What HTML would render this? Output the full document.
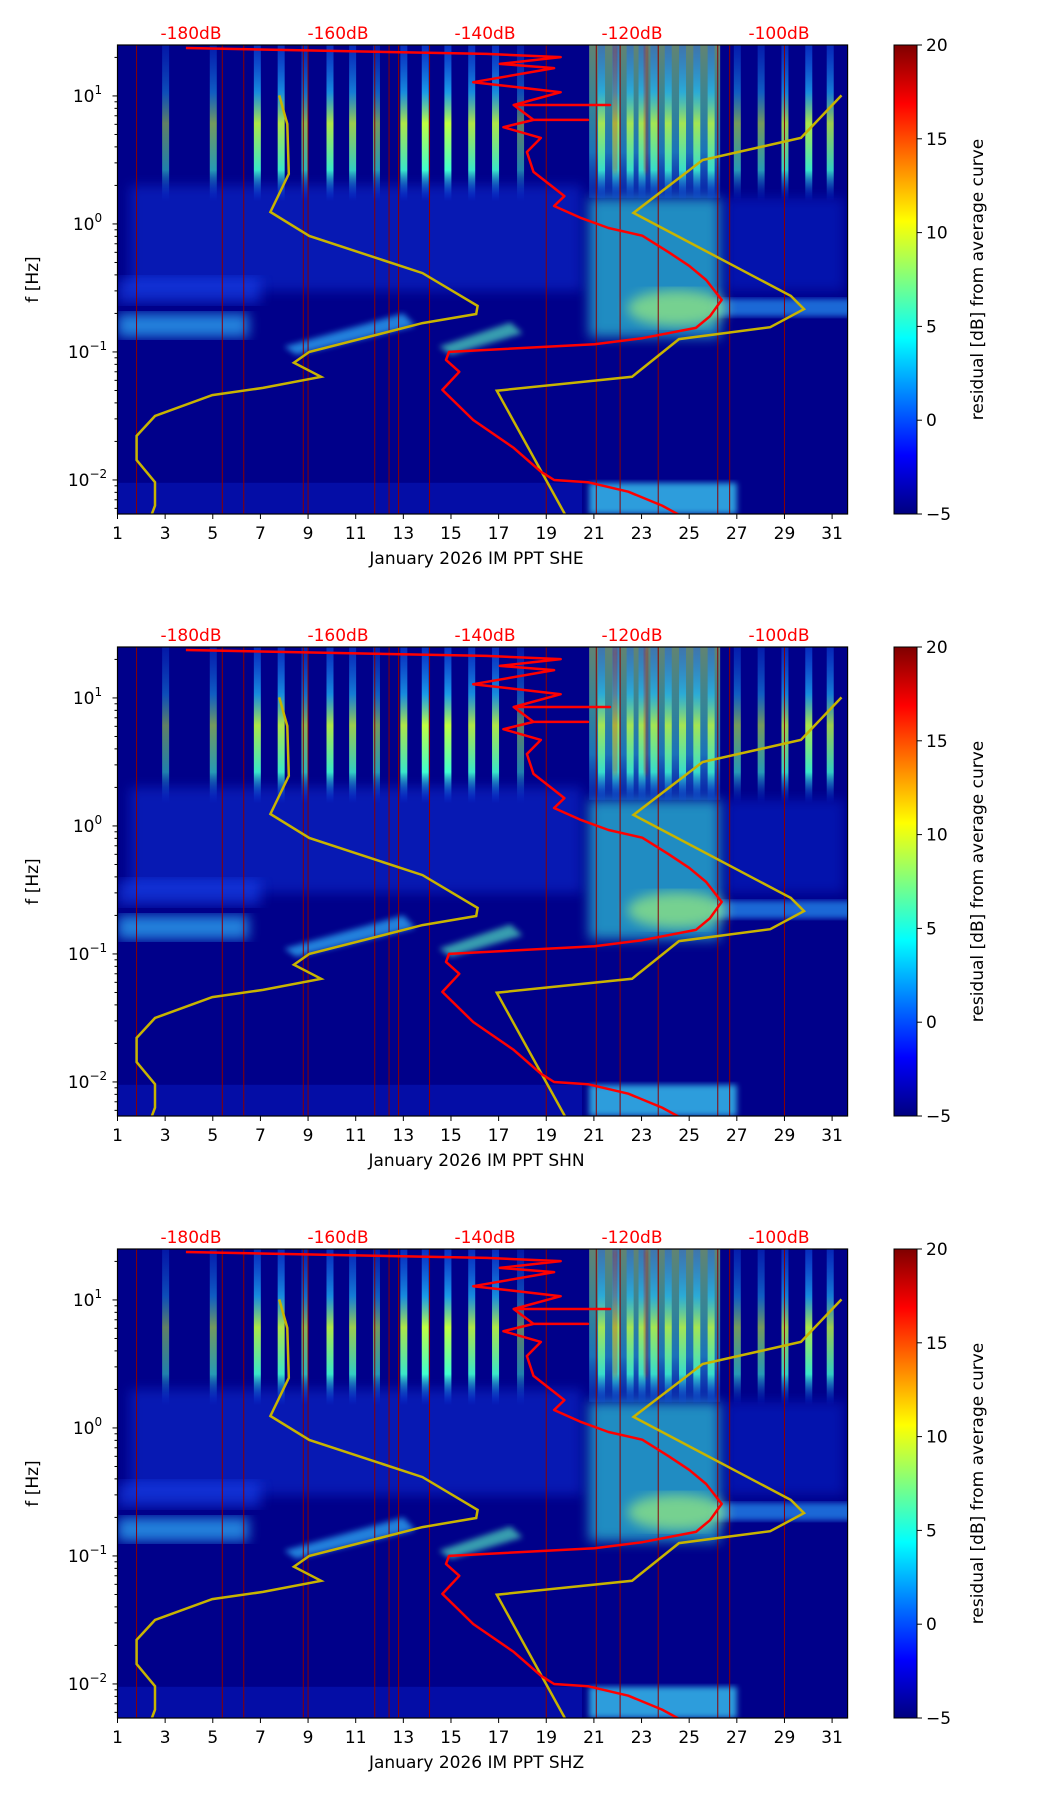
<!DOCTYPE html>
<html><head><meta charset="utf-8"><style>
html,body{margin:0;padding:0;background:#fff;}
svg{display:block;font-family:"DejaVu Sans","Liberation Sans",sans-serif;}
</style></head><body>
<svg id="fig" width="1052" height="1806" viewBox="0 0 1052 1806" xmlns="http://www.w3.org/2000/svg">
<defs>
<linearGradient id="jet" x1="0" y1="1" x2="0" y2="0">
<stop offset="0" stop-color="#00007f"/><stop offset="0.125" stop-color="#0000ff"/><stop offset="0.375" stop-color="#00ffff"/><stop offset="0.625" stop-color="#ffff00"/><stop offset="0.875" stop-color="#ff0000"/><stop offset="1" stop-color="#7f0000"/>
</linearGradient>
<linearGradient id="streak" x1="0" y1="0" x2="0" y2="1">
<stop offset="0" stop-color="#1060ff" stop-opacity="0.5"/><stop offset="0.3" stop-color="#20c0ff" stop-opacity="0.8"/><stop offset="0.5" stop-color="#c0ff40"/><stop offset="0.8" stop-color="#40ffd0"/><stop offset="1" stop-color="#0040ff" stop-opacity="0"/>
</linearGradient>
<linearGradient id="busy" x1="0" y1="0" x2="0" y2="1">
<stop offset="0" stop-color="#b0f060"/><stop offset="0.4" stop-color="#60f0a0"/><stop offset="0.7" stop-color="#30d0e0"/><stop offset="1" stop-color="#2080ff" stop-opacity="0.4"/>
</linearGradient>
<filter id="blur6"><feGaussianBlur stdDeviation="6"/></filter>
<filter id="blur3"><feGaussianBlur stdDeviation="3"/></filter>
</defs>
</svg>
<script>
// ---- chart data ----
const panelNames = ["SHE","SHN","SHZ"];
const xTickDays = [1,3,5,7,9,11,13,15,17,19,21,23,25,27,29,31];
const dbTicks = [-180,-160,-140,-120,-100];
const cbTicks = [-5,0,5,10,15,20];
const gapDays = [1.8,5.4,6.3,8.8,9.0,11.8,12.4,12.8,14.1,19.0,21.1,22.1,23.7,26.2,26.7,29.0];
const streakDays = [3.0,5.0,6.85,7.85,8.85,9.9,10.85,11.85,13.0,13.9,14.85,15.85,16.85,17.9,27.0,28.0,29.0,30.0,30.9];
const streakLevel = [0.5,0.6,0.9,0.9,0.7,0.9,0.8,0.6,0.9,1.0,1.0,0.9,0.9,0.5,0.6,0.6,0.8,0.9,0.8];
const busyDays = [21.3,21.9,22.5,23.0,23.5,24.1,24.7,25.3,25.9];
const redDb = [-180.7,-139.8,-129.7,-138.0,-130.6,-141.6,-129.7,-136.1,-123.0,-136.1,-133.4,-126,-133.4,-137.5,-132.4,-134.3,-133.4,-130.6,-129.2,-130.6,-126.9,-123.2,-118.6,-115.0,-112.2,-109.9,-107.8,-109.4,-111.3,-118.6,-125.1,-144.9,-145.3,-143.5,-145.8,-141.6,-136.1,-132.4,-130.6,-126.0,-120.5,-115.9,-112.7];
const redF = [23.7,21.3,20.1,17.8,16.5,12.8,10.7,8.5,8.5,8.5,6.5,6.5,6.5,5.7,4.7,3.65,2.55,1.91,1.65,1.38,1.11,0.93,0.81,0.60,0.47,0.365,0.255,0.19,0.154,0.128,0.115,0.1,0.0866,0.07,0.0505,0.0294,0.0178,0.0116,0.01,0.0096,0.0081,0.0063,0.005];
const nlnmDb = [-168.0,-166.9,-166.7,-169.2,-163.9,-148.5,-141.0,-141.2,-148.5,-163.9,-166.0,-162.3,-170.2,-177.1,-184.9,-187.4,-187.4,-184.9,-184.9,-185.6];
const nlnmF = [10.1,6.04,2.46,1.24,0.805,0.413,0.229,0.198,0.168,0.1,0.0824,0.064,0.0524,0.046,0.0316,0.0221,0.0143,0.0096,0.0063,0.0049];
const nhnmDb = [-91.5,-97.0,-110.4,-119.8,-98.4,-96.6,-101.2,-113.6,-120.0,-138.4,-128.8];
const nhnmF = [10.1,4.7,3.16,1.22,0.274,0.216,0.156,0.126,0.064,0.0498,0.005];

// ---- geometry ----
const L=117.5,PX=23.82,DMAX=31.65,R=L+(DMAX-1)*PX,H=469,tops=[45,647,1249];
const fMax=25.0,fMin=0.00542;
const lgMax=Math.log10(fMax),lgMin=Math.log10(fMin);
const NS="http://www.w3.org/2000/svg";
const svg=document.getElementById('fig');
function xDay(d){return L+(d-1)*PX;}
function xDb(db){return 191+(db+180)*7.35;}
function yF(top,f){return top+(lgMax-Math.log10(f))/(lgMax-lgMin)*H;}
function mk(tag,attrs,parent){const e=document.createElementNS(NS,tag);for(const k in attrs)e.setAttribute(k,attrs[k]);(parent||svg).appendChild(e);return e;}
function txt(s,attrs,parent){const e=mk('text',attrs,parent);e.textContent=s;return e;}

tops.forEach((top,pi)=>{
  const g=mk('g',{});
  
  
  const cp=mk('clipPath',{id:'clip'+pi},g);
  mk('rect',{x:L,y:top,width:R-L,height:H},cp);
  const sp=mk('g',{'clip-path':'url(#clip'+pi+')'},g);
  
  
  const Y=f=>yF(top,f);
  mk('rect',{x:L,y:top,width:R-L,height:H,fill:'#00008a'},sp);
  mk('rect',{x:xDay(1.5),y:Y(2.0),width:xDay(20.5)-xDay(1.5),height:Y(0.3)-Y(2.0),fill:'#1848ff',opacity:0.35,filter:'url(#blur6)'},sp);
  mk('rect',{x:xDay(26.5),y:Y(1.6),width:xDay(31.5)-xDay(26.5),height:Y(0.3)-Y(1.6),fill:'#1040ff',opacity:0.3,filter:'url(#blur6)'},sp);
  mk('rect',{x:xDay(1),y:Y(0.38),width:xDay(7)-xDay(1),height:Y(0.24)-Y(0.38),fill:'#1a50ff',opacity:0.5,filter:'url(#blur6)'},sp);
  mk('rect',{x:xDay(1),y:Y(0.2),width:xDay(6.5)-xDay(1),height:Y(0.13)-Y(0.2),fill:'#30b8ff',opacity:0.7,filter:'url(#blur6)'},sp);
  mk('polygon',{points:`${xDay(8)},${Y(0.11)} ${xDay(13)},${Y(0.2)} ${xDay(13.5)},${Y(0.16)} ${xDay(8.5)},${Y(0.095)}`,fill:'#30b8ff',opacity:0.7,filter:'url(#blur3)'},sp);
  mk('polygon',{points:`${xDay(14.5)},${Y(0.11)} ${xDay(17.5)},${Y(0.17)} ${xDay(18)},${Y(0.14)} ${xDay(15)},${Y(0.095)}`,fill:'#50e0c0',opacity:0.7,filter:'url(#blur3)'},sp);
  mk('rect',{x:xDay(26),y:Y(0.26),width:xDay(32)-xDay(26),height:Y(0.19)-Y(0.26),fill:'#2aa0ff',opacity:0.65,filter:'url(#blur3)'},sp);
  mk('rect',{x:xDay(20.8),y:Y(1.6),width:xDay(26.3)-xDay(20.8),height:Y(0.13)-Y(1.6),fill:'#30d8e0',opacity:0.65,filter:'url(#blur6)'},sp);
  mk('ellipse',{cx:xDay(24.5),cy:Y(0.22),rx:50,ry:18,fill:'#b0ff70',opacity:0.6,filter:'url(#blur6)'},sp);
  mk('rect',{x:xDay(20.8),y:top,width:xDay(26.3)-xDay(20.8),height:Y(1.6)-top,fill:'url(#busy)',opacity:0.55},sp);
  busyDays.forEach(d=>{mk('rect',{x:xDay(d)-3,y:top,width:7,height:Y(1.5)-top,fill:'url(#streak)',opacity:0.8},sp);});
  [21.8,23.1].forEach(d=>{mk('rect',{x:xDay(d),y:top,width:4,height:Y(2.5)-top,fill:'#d01000',opacity:0.55,filter:'url(#blur3)'},sp);});
  streakDays.forEach((d,i)=>{
    const r=mk('rect',{x:xDay(d)-3,y:top,width:7,height:Y(1.5)-top,fill:'url(#streak)',opacity:streakLevel[i]},sp);
    
    
  });
  mk('rect',{x:xDay(1),y:Y(0.0095),width:xDay(20.5)-xDay(1),height:top+H-Y(0.0095),fill:'#0a20d0',opacity:0.4},sp);
  mk('rect',{x:xDay(20.8),y:Y(0.0095),width:xDay(27)-xDay(20.8),height:top+H-Y(0.0095),fill:'#40e0ff',opacity:0.7,filter:'url(#blur3)'},sp);
  gapDays.forEach(d=>{
    const l=mk('line',{x1:xDay(d),x2:xDay(d),y1:top,y2:top+H,stroke:'#8b0000','stroke-width':1},sp);
    
    
  });
  const pl=(dbs,fs)=>dbs.map((v,i)=>xDb(v).toFixed(1)+','+Y(fs[i]).toFixed(1)).join(' ');
  const n1=mk('polyline',{points:pl(nlnmDb,nlnmF),fill:'none',stroke:'#c8b400','stroke-width':2.5},sp);
  
  
  const n2=mk('polyline',{points:pl(nhnmDb,nhnmF),fill:'none',stroke:'#c8b400','stroke-width':2.5},sp);
  
  
  const rc=mk('polyline',{points:pl(redDb,redF),fill:'none',stroke:'#ff0000','stroke-width':2.5,'stroke-linejoin':'round'},sp);
  
  
  mk('rect',{x:L,y:top,width:R-L,height:H,fill:'none',stroke:'#000','stroke-width':1.2},g);
  xTickDays.forEach(d=>{
    mk('line',{x1:xDay(d),x2:xDay(d),y1:top+H,y2:top+H+5,stroke:'#000'},g);
    const t=txt(String(d),{x:xDay(d),y:top+H+25,'font-size':17,'text-anchor':'middle'},g);
    
    
  });
  const xl=txt('January 2026 IM PPT  '+panelNames[pi],{x:(L+R)/2-6,y:top+H+50,'font-size':17,'text-anchor':'middle'},g);
  
  
  for(let e=-3;e<=1;e++){for(let m=1;m<10;m++){const f=m*Math.pow(10,e);if(f<fMin||f>fMax)continue;const y=Y(f);
    mk('line',{x1:L-(m===1?5:3),x2:L,y1:y,y2:y,stroke:'#000'},g);
    if(m===1){const t=txt('',{x:L-30,y:y+6,'font-size':17,'text-anchor':'middle'},g);
      
      
      t.textContent='10';const s=mk('tspan',{dy:-8,'font-size':12},t);s.textContent=(e<0?'\u2212':'')+Math.abs(e);}
  }}
  const yl=txt('f [Hz]',{x:0,y:0,'font-size':17,'text-anchor':'middle',transform:`translate(38,${top+H/2}) rotate(-90)`},g);
  
  
  dbTicks.forEach(v=>{
    const t=txt(v+'dB',{x:xDb(v),y:top-6,'font-size':17,'text-anchor':'middle',fill:'#ff0000'},g);
    
    
  });
  const cx=894,cw=23;
  const cb=mk('rect',{x:cx,y:top,width:cw,height:H,fill:'url(#jet)',stroke:'#000','stroke-width':1},g);
  
  
  cbTicks.forEach(v=>{const y=top+H-(v+5)/25*H;
    mk('line',{x1:cx+cw,x2:cx+cw+5,y1:y,y2:y,stroke:'#000'},g);
    const t=txt(v<0?'\u2212'+Math.abs(v):String(v),{x:cx+cw+9,y:y+6,'font-size':17},g);
    
    
  });
  const cl=txt('residual [dB] from average curve',{x:0,y:0,'font-size':17,'text-anchor':'middle',transform:`translate(983,${top+H/2}) rotate(-90)`},g);
  
  
});
</script>
</body></html>
